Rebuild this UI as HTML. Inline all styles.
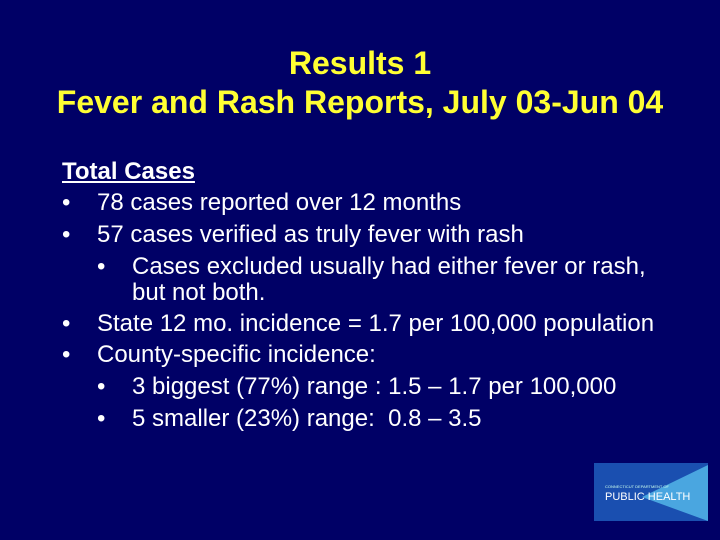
<!DOCTYPE html>
<html><head><meta charset="utf-8"><style>
html,body{margin:0;padding:0}
body{width:720px;height:540px;background:#000066;position:relative;overflow:hidden;font-family:"Liberation Sans",Arial,sans-serif}
.t{position:absolute;left:0;width:720px;text-align:center;color:#ffff33;font-weight:bold;font-size:32px;line-height:34px}
.l{position:absolute;color:#fff;font-size:24px;line-height:26px;white-space:nowrap}
</style></head><body>
<div class="t" style="top:46px">Results 1</div>
<div class="t" style="top:85px">Fever and Rash Reports, July 03-Jun 04</div>
<div class="l" style="left:62px;top:159px;text-decoration:underline;font-weight:bold">Total Cases</div>
<div class="l" style="left:62px;top:190px">•</div>
<div class="l" style="left:97px;top:190px">78 cases reported over 12 months</div>
<div class="l" style="left:62px;top:222px">•</div>
<div class="l" style="left:97px;top:222px">57 cases verified as truly fever with rash</div>
<div class="l" style="left:97px;top:254px">•</div>
<div class="l" style="left:132px;top:254px">Cases excluded usually had either fever or rash,</div>
<div class="l" style="left:132px;top:280px">but not both.</div>
<div class="l" style="left:62px;top:311px">•</div>
<div class="l" style="left:97px;top:311px">State 12 mo. incidence = 1.7 per 100,000 population</div>
<div class="l" style="left:62px;top:342px">•</div>
<div class="l" style="left:97px;top:342px">County-specific incidence:</div>
<div class="l" style="left:97px;top:374px">•</div>
<div class="l" style="left:132px;top:374px">3 biggest (77%) range : 1.5 – 1.7 per 100,000</div>
<div class="l" style="left:97px;top:406px">•</div>
<div class="l" style="left:132px;top:406px">5 smaller (23%) range:&nbsp; 0.8 – 3.5</div>
<svg style="position:absolute;left:594px;top:463px" width="114" height="58">
<rect width="114" height="58" fill="#1a4fb0"/>
<polygon points="48,34 114,2 114,58" fill="#4aa6e0"/>
<text x="11" y="25" font-size="4" fill="#cfe" font-family="Liberation Sans">CONNECTICUT DEPARTMENT OF</text>
<text x="11" y="37" font-size="11" fill="#fff" font-family="Liberation Sans">PUBLIC HEALTH</text>
</svg>
</body></html>
